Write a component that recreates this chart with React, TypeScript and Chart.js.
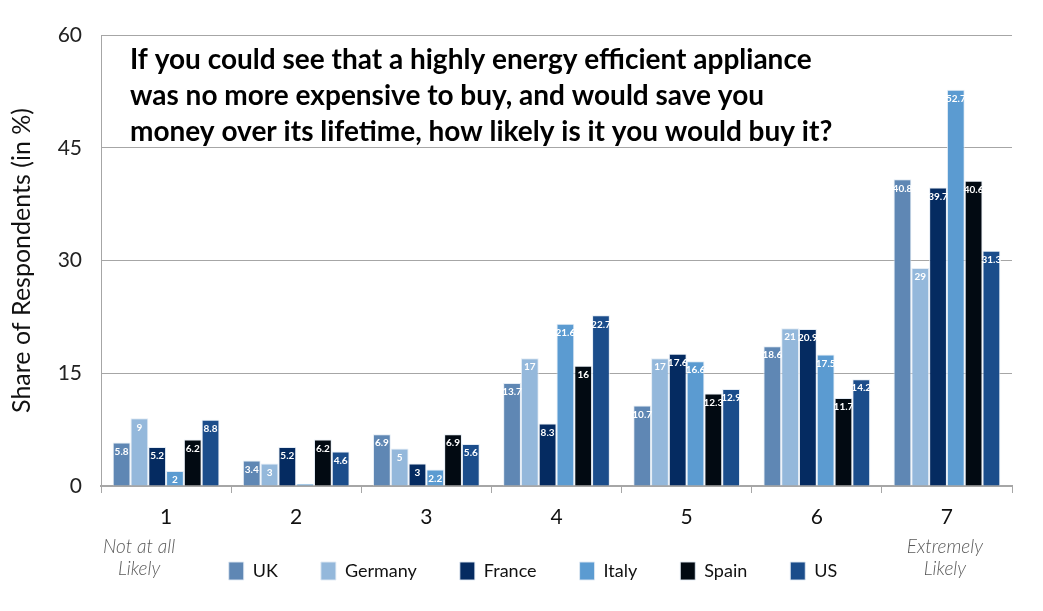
import React, { useEffect, useRef } from "react";
import { Chart, registerables } from "chart.js";

Chart.register(...registerables);

const categories = ["1", "2", "3", "4", "5", "6", "7"];
const seriesNames = ["UK", "Germany", "France", "Italy", "Spain", "US"];
const uk = [5.8, 3.4, 6.9, 13.7, 10.7, 18.6, 40.8];
const germany = [9, 3, 5, 17, 17, 21, 29];
const france = [5.2, 5.2, 3, 8.3, 17.6, 20.9, 39.7];
const italy = [2, 0.3, 2.2, 21.6, 16.6, 17.5, 52.7];
const spain = [6.2, 6.2, 6.9, 16, 12.3, 11.7, 40.6];
const us = [8.8, 4.6, 5.6, 22.7, 12.9, 14.2, 31.3];
const seriesValues = [uk, germany, france, italy, spain, us];
const seriesColors = ["#5f87b4", "#94b8db", "#052b61", "#5b9bd1", "#020a12", "#1b4d8b"];
const yTicks = [0, 15, 30, 45, 60];
const titleLines = [
  "If you could see that a highly energy efficient appliance",
  "was no more expensive to buy, and would save you",
  "money over its lifetime, how likely is it you would buy it?",
];
const leftNote = ["Not at all", "Likely"];
const rightNote = ["Extremely", "Likely"];

const overlayPlugin = {
  id: "overlay",
  afterLayout(chart: any) {
    const lg = chart.legend;
    if (lg) {
      lg.left += 27;
      lg.right += 27;
      lg.top -= 12;
      lg.bottom -= 12;
    }
  },
  afterDatasetsDraw(chart: any) {
    const ctx = chart.ctx;
    ctx.save();
    ctx.fillStyle = "#ffffff";
    ctx.font = "bold 10px Lato";
    ctx.textAlign = "center";
    ctx.textBaseline = "middle";
    chart.data.datasets.forEach((ds: any, di: number) => {
      const meta = chart.getDatasetMeta(di);
      meta.data.forEach((el: any, i: number) => {
        const v = ds.data[i];
        if (v < 1) return;
        ctx.fillText(String(v), el.x, el.y + 9);
      });
    });
    ctx.restore();
  },
  afterDraw(chart: any) {
    const ctx = chart.ctx;
    const area = chart.chartArea;
    ctx.save();
    ctx.fillStyle = "#000000";
    ctx.font = "bold 28px Lato";
    ctx.textAlign = "left";
    ctx.textBaseline = "middle";
    titleLines.forEach((t, i) => ctx.fillText(t, area.left + 29, 60 + i * 36));
    const xs = chart.scales.x;
    ctx.fillStyle = "#595959";
    ctx.font = "italic 300 19px Lato";
    ctx.textAlign = "center";
    const x1 = xs.getPixelForValue(0) - 27;
    const x7 = xs.getPixelForValue(6) - 2;
    leftNote.forEach((t, i) => ctx.fillText(t, x1, 547 + i * 22));
    rightNote.forEach((t, i) => ctx.fillText(t, x7, 547 + i * 22));
    ctx.restore();
  },
};

export default function App() {
  const ref = useRef<HTMLCanvasElement>(null);
  useEffect(() => {
    document.body.style.margin = "0";
    const chart = new Chart(ref.current as HTMLCanvasElement, {
      type: "bar",
      data: {
        labels: categories,
        datasets: seriesNames.map((name, i) => ({
          label: name,
          data: seriesValues[i],
          backgroundColor: seriesColors[i],
          borderColor: "rgba(225,234,244,0.9)",
          borderWidth: 1,
          categoryPercentage: 0.82,
          barPercentage: 1.0,
        })),
      },
      options: {
        animation: false,
        responsive: false,
        maintainAspectRatio: false,
        layout: { padding: { top: 35, left: 0, right: 31, bottom: 9 } },
        plugins: {
          tooltip: { enabled: false },
          legend: {
            position: "bottom",
            labels: {
              boxWidth: 15,
              boxHeight: 18,
              padding: 43,
              color: "#111",
              font: { family: "Lato", size: 18 },
            },
          },
        },
        scales: {
          x: {
            grid: {
              offset: true,
              drawOnChartArea: false,
              drawTicks: true,
              tickLength: 7,
              color: "#a6a6a6",
            },
            border: { color: "#a6a6a6", width: 2 },
            ticks: { color: "#111", font: { family: "Lato", size: 21 }, padding: 12 },
            afterFit(scale: any) {
              scale.height = 45;
            },
          },
          y: {
            min: 0,
            max: 60,
            afterBuildTicks(scale: any) {
              scale.ticks = yTicks.map((v) => ({ value: v }));
            },
            grid: { color: "#a6a6a6", drawTicks: false },
            border: { color: "#a6a6a6", width: 1 },
            ticks: { color: "#222", font: { family: "Lato", size: 21 }, padding: 19 },
            title: {
              display: true,
              text: "Share of Respondents (in %)",
              color: "#111",
              font: { family: "Lato", size: 25 },
              padding: { top: 7, bottom: 0 },
            },
            afterFit(scale: any) {
              scale.width = 101;
            },
          },
        },
      },
      plugins: [overlayPlugin],
    } as any);
    return () => chart.destroy();
  }, []);
  return (
    <div style={{ position: "absolute", left: 0, top: 0, width: 1043, height: 611 }}>
      <canvas ref={ref} width={1043} height={611} />
    </div>
  );
}
